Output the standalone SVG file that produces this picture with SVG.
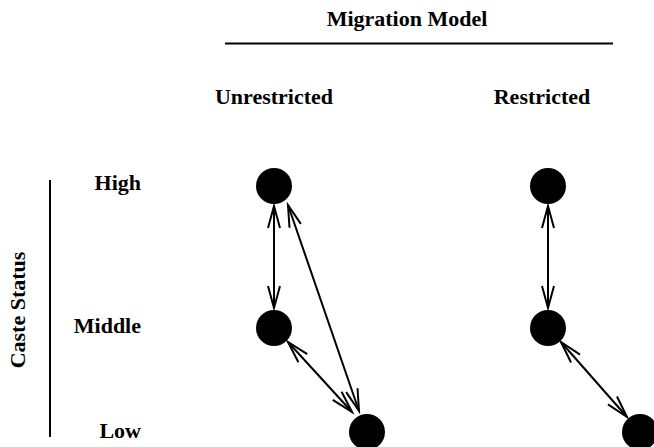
<svg xmlns="http://www.w3.org/2000/svg" width="654" height="447" viewBox="0 0 654 447">
<style>
text{font-family:"Liberation Serif","Times New Roman",serif;font-weight:bold;font-size:22px;fill:#000}
.r{text-anchor:end}
.m{text-anchor:middle}
.rule{stroke:#000;stroke-width:2;fill:none}
.edge{stroke:#000;stroke-width:2;fill:none;marker-start:url(#ah);marker-end:url(#ah)}
.node{fill:#000}
</style>
<defs>
<marker id="ah" markerUnits="userSpaceOnUse" markerWidth="30" markerHeight="20" viewBox="-26 -10 30 20" refX="0" refY="0" orient="auto-start-reverse" overflow="visible">
<path d="M-22,-6 L0,0 L-22,6" fill="none" stroke="#000" stroke-width="2"/>
</marker>
</defs>
<g id="header">
<text class="m" x="407" y="26">Migration Model</text>
<line class="rule" x1="225" y1="43.5" x2="613" y2="43.5"/>
<text class="m" x="274" y="104">Unrestricted</text>
<text class="m" x="542" y="104">Restricted</text>
</g>
<g id="axis">
<line class="rule" x1="50" y1="180" x2="50" y2="437"/>
<text class="m" transform="translate(25,310) rotate(-90)">Caste Status</text>
<text class="r" x="141" y="190">High</text>
<text class="r" x="141" y="333">Middle</text>
<text class="r" x="141" y="438">Low</text>
</g>
<g id="connectors">
<line class="edge" x1="274" y1="206" x2="274" y2="308"/>
<line class="edge" x1="288" y1="205" x2="359" y2="411"/>
<line class="edge" x1="288" y1="342" x2="352" y2="412"/>
<line class="edge" x1="548" y1="206" x2="548" y2="308"/>
<line class="edge" x1="561" y1="342" x2="627" y2="417"/>
</g>
<g id="u-high"><circle class="node" cx="274" cy="186" r="18"/></g>
<g id="u-middle"><circle class="node" cx="274" cy="328" r="18"/></g>
<g id="u-low"><circle class="node" cx="367" cy="432" r="18"/></g>
<g id="r-high"><circle class="node" cx="548" cy="186" r="18"/></g>
<g id="r-middle"><circle class="node" cx="548" cy="328" r="18"/></g>
<g id="r-low"><circle class="node" cx="640" cy="432" r="18"/></g>
</svg>
